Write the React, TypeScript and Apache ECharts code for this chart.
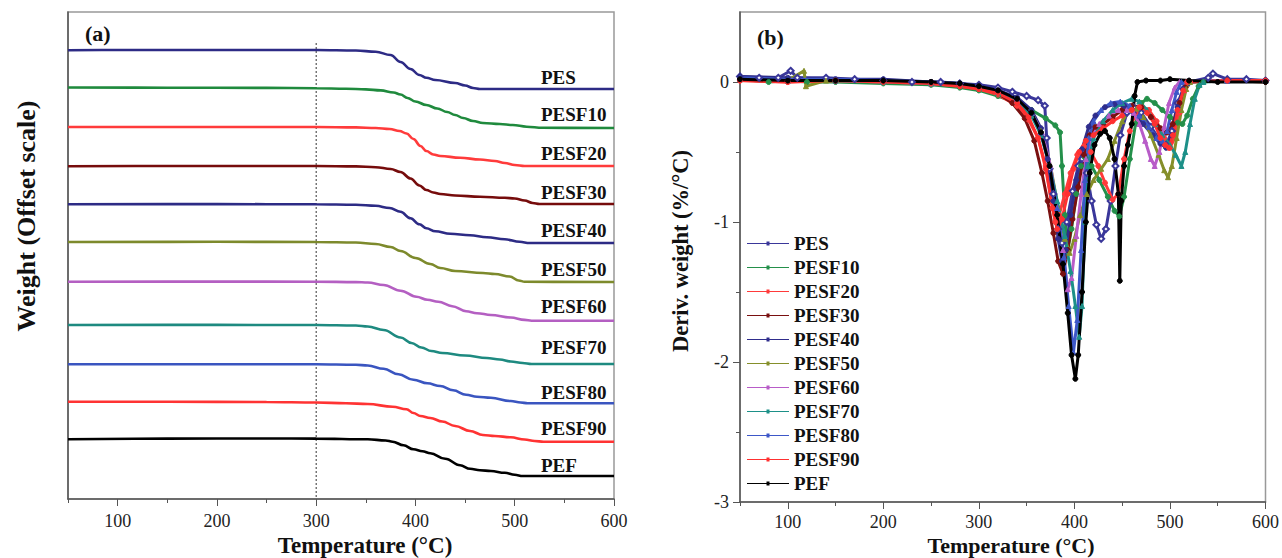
import React, { useEffect, useRef } from "react";
import * as echarts from "echarts";

const FONT = "'Liberation Serif', 'Times New Roman', Times, serif";

// ---------- Panel (a): TGA weight curves, [temperature °C, weight %] ----------
const tgaPES = [[50,99.7],[100,100],[200,100],[300,100],[340,99.5],[360,98.3],[375,95],[385,88],[395,81],[404,75],[411,72.2],[420,70],[440,67],[450,64.5],[458,62],[465,61],[600,61]];
const tgaPESF10 = [[50,100.5],[150,100.3],[250,100.1],[300,99.8],[330,99.3],[350,98.6],[365,97.6],[378,95.5],[385,93.5],[392,90],[400,86.5],[411,83],[422,79.5],[432,76],[440,73],[448,70],[458,67],[468,65],[485,64],[498,63],[512,61.3],[528,60.2],[600,60]];
const tgaPESF20 = [[50,100],[200,100],[300,100],[340,99.6],[360,99],[374,98],[384,96],[391,93.5],[398,88],[405,81],[411,76],[418,72.5],[425,71],[445,69.3],[465,67.5],[480,66],[490,64],[500,62],[510,61],[600,61]];
const tgaPESF30 = [[50,99.7],[150,100],[250,100],[300,100],[340,99.6],[360,98.8],[375,97],[385,94],[395,87.5],[404,80.5],[411,76],[418,73.5],[425,72],[440,70.5],[465,69.2],[490,68.2],[500,67.5],[510,65.5],[518,63],[525,62],[600,62]];
const tgaPESF40 = [[50,100],[200,100.2],[300,100],[340,99.5],[360,98.5],[374,96.3],[385,92.5],[395,86],[404,80],[411,76],[420,73],[435,70.5],[455,69],[472,67],[490,65],[505,62.5],[515,61.3],[600,61.3]];
const tgaPESF50 = [[50,100],[200,100.2],[300,100],[340,99.5],[360,98],[375,95],[385,91],[400,84],[415,78],[425,74],[440,71],[468,69],[480,68],[495,65.5],[504,61.5],[510,60.2],[600,60]];
const tgaPESF60 = [[50,100],[200,100.1],[300,100],[340,99.6],[352,99.2],[368,96.7],[385,91],[401,85],[412,82],[423,80],[437,75.5],[451,70.5],[462,68.5],[476,66.7],[496,64.2],[510,61.8],[517,61],[600,61]];
const tgaPESF70 = [[50,100],[200,100.1],[300,100],[340,99.5],[352,98.5],[368,95],[385,87.5],[396,82],[406,77.5],[416,74],[427,72],[450,69.5],[472,67],[485,65.5],[496,63.5],[508,62],[517,61],[600,61]];
const tgaPESF80 = [[50,100],[200,100],[300,100],[340,99.5],[352,98.8],[368,95.5],[383,90],[398,84.5],[412,81],[425,78.3],[438,74],[451,69.5],[462,67.5],[476,66.5],[496,63.3],[506,61.8],[513,61],[600,61]];
const tgaPESF90 = [[50,100.3],[150,100.3],[250,100],[300,99.5],[330,98.8],[352,98],[377,95.3],[391,92.8],[398,89],[405,86],[415,84],[427,80.5],[440,76],[455,71],[468,67],[480,66],[496,64.7],[510,62.5],[520,61],[529,60.3],[600,60.3]];
const tgaPEF = [[50,99],[150,99.7],[250,99.8],[300,99.7],[352,99],[370,97.8],[377,96.6],[388,93],[398,89],[407,87],[415,85],[430,79.5],[445,73],[455,69.5],[465,68],[476,67.3],[490,65.5],[500,63.5],[508,62.3],[600,62.3]];

// vertical offsets (weight units) of the stacked curves
const tgaOffsets = [-1, -39, -78, -117, -155.3, -193, -232.7, -276, -315.3, -353, -389.3];
const guide300 = [[300, 106], [300, -350]];

// ---------- Panel (b): DTG curves, [temperature °C, deriv. weight %/°C] ----------
const dtgPES = [[50,0.04],[70,0.03],[90,0.03],[103,0.08],[110,0.03],[140,0.03],[170,0.02],[200,0.01],[230,0],[260,0],[280,-0.01],[300,-0.02],[320,-0.04],[335,-0.07],[350,-0.1],[362,-0.13],[369,-0.17],[371,-0.4],[374,-0.62],[378,-0.8],[383,-1.05],[387,-1.15],[392,-1.0],[398,-0.78],[404,-0.6],[408,-0.55],[413,-0.65],[418,-0.85],[423,-1.02],[428,-1.12],[433,-1.05],[438,-0.85],[443,-0.6],[448,-0.38],[455,-0.22],[462,-0.18],[470,-0.22],[480,-0.32],[490,-0.42],[496,-0.45],[502,-0.35],[508,-0.15],[514,-0.05],[520,0],[540,0.03],[545,0.06],[560,0.02],[580,0.02],[600,0.01]];
const dtgPESF10 = [[50,0.02],[80,0],[100,0.01],[120,0],[150,0],[200,-0.01],[250,-0.02],[280,-0.04],[300,-0.06],[320,-0.1],[340,-0.15],[355,-0.2],[370,-0.26],[380,-0.31],[385,-0.36],[387,-0.6],[390,-0.95],[393,-1.2],[397,-1.05],[402,-0.8],[407,-0.6],[411,-0.54],[418,-0.6],[426,-0.7],[435,-0.82],[442,-0.92],[447,-0.96],[452,-0.82],[458,-0.55],[464,-0.3],[470,-0.15],[476,-0.12],[484,-0.15],[492,-0.2],[500,-0.25],[508,-0.29],[513,-0.3],[518,-0.24],[524,-0.12],[530,-0.03],[535,0],[560,0.01],[600,0]];
const dtgPESF20 = [[50,0.01],[100,0],[150,0.01],[200,0],[250,-0.01],[280,-0.03],[300,-0.05],[320,-0.09],[340,-0.17],[352,-0.27],[362,-0.4],[370,-0.6],[376,-0.85],[380,-1.0],[384,-0.95],[390,-0.8],[396,-0.65],[403,-0.52],[410,-0.46],[417,-0.5],[425,-0.6],[432,-0.72],[440,-0.84],[446,-0.8],[452,-0.55],[458,-0.35],[464,-0.22],[470,-0.18],[478,-0.2],[486,-0.28],[494,-0.4],[500,-0.47],[505,-0.4],[510,-0.22],[516,-0.06],[521,0],[560,0.01],[600,0]];
const dtgPESF30 = [[50,0.02],[100,0.01],[150,0.01],[200,0.01],[250,0],[280,-0.02],[300,-0.04],[320,-0.08],[335,-0.15],[348,-0.26],[358,-0.42],[366,-0.65],[372,-0.85],[378,-1.08],[383,-1.28],[388,-1.37],[393,-1.2],[398,-0.98],[404,-0.75],[410,-0.52],[416,-0.38],[422,-0.32],[430,-0.3],[440,-0.25],[450,-0.2],[460,-0.17],[470,-0.18],[480,-0.25],[490,-0.33],[497,-0.36],[503,-0.3],[510,-0.15],[516,-0.04],[520,0],[560,0.01],[600,0.01]];
const dtgPESF40 = [[50,0.04],[100,0.03],[150,0.02],[200,0.02],[250,0],[280,-0.01],[300,-0.03],[320,-0.06],[340,-0.11],[355,-0.2],[365,-0.33],[372,-0.55],[378,-0.85],[383,-1.12],[387,-1.28],[391,-1.2],[396,-0.95],[402,-0.7],[408,-0.48],[415,-0.32],[422,-0.24],[432,-0.18],[442,-0.16],[452,-0.17],[462,-0.22],[472,-0.3],[482,-0.38],[490,-0.44],[496,-0.47],[502,-0.38],[508,-0.18],[514,-0.05],[518,0],[560,0.01],[600,0.01]];
const dtgPESF50 = [[50,0.02],[100,0.01],[117,0.08],[119,-0.03],[140,0.01],[200,0],[250,-0.01],[280,-0.02],[300,-0.04],[320,-0.07],[340,-0.13],[355,-0.22],[365,-0.35],[375,-0.6],[383,-0.9],[390,-1.12],[395,-1.22],[400,-1.12],[406,-0.95],[413,-0.8],[420,-0.7],[428,-0.62],[435,-0.55],[442,-0.42],[450,-0.28],[458,-0.2],[465,-0.19],[472,-0.25],[480,-0.38],[488,-0.52],[494,-0.63],[498,-0.68],[502,-0.6],[507,-0.4],[512,-0.2],[517,-0.05],[521,0],[560,0.01],[600,0.01]];
const dtgPESF60 = [[50,0.02],[100,0.01],[150,0.01],[200,0],[250,-0.01],[280,-0.02],[300,-0.04],[320,-0.07],[340,-0.13],[355,-0.22],[366,-0.36],[375,-0.6],[382,-0.9],[388,-1.2],[393,-1.48],[397,-1.4],[402,-1.1],[407,-0.8],[412,-0.55],[418,-0.4],[426,-0.3],[436,-0.24],[446,-0.2],[455,-0.2],[462,-0.22],[468,-0.3],[474,-0.42],[480,-0.55],[484,-0.6],[489,-0.5],[494,-0.32],[499,-0.15],[505,-0.04],[510,0],[560,0.01],[600,0.01]];
const dtgPESF70 = [[50,0.02],[100,0.01],[150,0.01],[200,0],[250,-0.01],[280,-0.02],[300,-0.04],[320,-0.08],[340,-0.14],[355,-0.24],[365,-0.38],[374,-0.6],[382,-0.85],[390,-1.1],[396,-1.35],[401,-1.6],[405,-1.82],[408,-1.6],[411,-1.0],[414,-0.6],[420,-0.4],[430,-0.28],[440,-0.2],[450,-0.15],[460,-0.12],[468,-0.14],[476,-0.2],[484,-0.3],[492,-0.38],[500,-0.45],[506,-0.52],[512,-0.6],[516,-0.5],[521,-0.3],[526,-0.12],[531,-0.02],[535,0],[560,0.01],[600,0.01]];
const dtgPESF80 = [[50,0.03],[100,0.02],[150,0.02],[200,0.01],[250,0],[280,-0.01],[300,-0.03],[320,-0.06],[340,-0.12],[355,-0.22],[365,-0.36],[374,-0.6],[382,-0.9],[389,-1.25],[394,-1.6],[399,-1.93],[403,-1.7],[407,-1.2],[411,-0.7],[415,-0.4],[420,-0.28],[428,-0.2],[438,-0.15],[448,-0.14],[458,-0.17],[468,-0.24],[478,-0.32],[486,-0.4],[492,-0.42],[497,-0.35],[502,-0.2],[507,-0.07],[512,0],[560,0.01],[600,0.01]];
const dtgPESF90 = [[50,0.01],[100,0],[150,0.01],[200,0],[250,-0.01],[280,-0.03],[300,-0.05],[320,-0.08],[340,-0.15],[352,-0.25],[362,-0.4],[370,-0.62],[377,-0.9],[382,-1.05],[387,-0.98],[393,-0.8],[399,-0.62],[405,-0.5],[412,-0.42],[420,-0.38],[430,-0.33],[440,-0.28],[450,-0.24],[460,-0.2],[468,-0.18],[476,-0.22],[484,-0.3],[490,-0.4],[495,-0.45],[499,-0.47],[503,-0.38],[508,-0.2],[514,-0.06],[518,0],[560,0.01],[600,0.01]];
const dtgPEF = [[50,0.02],[100,0.01],[150,0.01],[200,0.01],[250,0],[280,-0.01],[300,-0.03],[320,-0.06],[340,-0.12],[355,-0.22],[365,-0.36],[374,-0.6],[382,-0.95],[388,-1.3],[393,-1.65],[397,-1.95],[401,-2.12],[404,-1.95],[408,-1.5],[412,-1.0],[416,-0.65],[421,-0.45],[427,-0.37],[432,-0.35],[437,-0.4],[442,-0.55],[446,-0.8],[447.5,-1.42],[449,-0.85],[452,-0.6],[456,-0.45],[460,-0.3],[463,-0.1],[466,0],[475,0.01],[490,0.01],[500,0.02],[520,0.01],[550,0],[600,0]];

const names = ["PES","PESF10","PESF20","PESF30","PESF40","PESF50","PESF60","PESF70","PESF80","PESF90","PEF"];
const tgaColors = ["#2d2b85","#1f8a3d","#ff3b3b","#760c0c","#2d2b85","#7d8a2c","#b45fc2","#1e8a80","#3a55c0","#ff3333","#000000"];
const dtgColors = ["#3a379a","#24904a","#ff3a3a","#7a1010","#2f2d8c","#858f2a","#b85cc8","#1d9088","#3d57c8","#ff3030","#000000"];
const dtgSymbols = ["emptyDiamond","circle","circle","circle","circle","triangle","triangle","triangle","triangle","circle","circle"];

const xTicksMajor = [100, 200, 300, 400, 500, 600];
const xTicksMinor = [50, 150, 250, 350, 450, 550];
const yTicksB = [-3, -2, -1, 0];
const yTicksBMinor = [-2.5, -1.5, -0.5];

const tgaSets = [tgaPES,tgaPESF10,tgaPESF20,tgaPESF30,tgaPESF40,tgaPESF50,tgaPESF60,tgaPESF70,tgaPESF80,tgaPESF90,tgaPEF];
const dtgSets = [dtgPES,dtgPESF10,dtgPESF20,dtgPESF30,dtgPESF40,dtgPESF50,dtgPESF60,dtgPESF70,dtgPESF80,dtgPESF90,dtgPEF];

// layout of curve labels in panel (a) (pixel centres)
const labelY = [77, 114, 153, 192, 230, 269, 306, 347, 392, 428, 465];

const axisColor = "#555";
const legendIcon = "path://M0,4.5H42V5.5H0Z M19.5,3H22.5V7H19.5Z";

export default function App() {
  const ref = useRef<HTMLDivElement>(null);
  useEffect(() => {
    if (!ref.current) return;
    const chart = echarts.init(ref.current, null, { renderer: "svg" });

    const majorX = (grid: number, margin: number) => ({
      gridIndex: grid, type: "value", min: 50, max: 600, position: "bottom",
      axisLine: { show: true, onZero: false, lineStyle: { color: axisColor, width: 1.5 } },
      axisTick: { show: true, customValues: xTicksMajor, length: 7, lineStyle: { color: axisColor, width: 1 } },
      axisLabel: { customValues: xTicksMajor, fontFamily: FONT, fontSize: 18, color: "#222", margin },
      splitLine: { show: false },
    });
    const minorX = (grid: number) => ({
      gridIndex: grid, type: "value", min: 50, max: 600, position: "bottom",
      axisLine: { show: false, onZero: false },
      axisTick: { show: true, customValues: xTicksMinor, length: 4, lineStyle: { color: axisColor, width: 1 } },
      axisLabel: { show: false },
      splitLine: { show: false },
    });

    const series: any[] = [];
    tgaSets.forEach((set, i) => {
      series.push({
        name: "a-" + names[i], type: "line", xAxisIndex: 0, yAxisIndex: 0,
        data: set.map(([t, w]) => [t, w + tgaOffsets[i]]),
        showSymbol: false, smooth: 0.4, smoothMonotone: "x",
        lineStyle: { color: tgaColors[i], width: 2.6 }, itemStyle: { color: tgaColors[i] },
        silent: true, z: 3,
      });
    });
    series.push({
      name: "guide", type: "line", xAxisIndex: 0, yAxisIndex: 0, data: guide300,
      showSymbol: false, lineStyle: { color: "#333", width: 1, type: [2, 2] }, silent: true, z: 2,
    });
    dtgSets.forEach((set, i) => {
      series.push({
        name: names[i], type: "line", xAxisIndex: 2, yAxisIndex: 1, data: set,
        showSymbol: true, symbol: dtgSymbols[i], symbolSize: dtgSymbols[i] === "emptyDiamond" ? 6 : 5,
        lineStyle: { color: dtgColors[i], width: 3 }, itemStyle: { color: dtgColors[i], borderColor: dtgColors[i] },
        silent: true, z: 3,
      });
    });

    const graphics: any[] = [
      { type: "text", left: 85, top: 22, style: { text: "(a)", font: `bold 22px ${FONT}`, fill: "#111" } },
      { type: "text", left: 757, top: 26, style: { text: "(b)", font: `bold 22px ${FONT}`, fill: "#111" } },
      { type: "text", x: 26, y: 216, rotation: Math.PI / 2, style: { text: "Weight (Offset scale)", font: `bold 26px ${FONT}`, fill: "#111", align: "center", verticalAlign: "middle" } },
      { type: "text", x: 680, y: 251, rotation: Math.PI / 2, style: { text: "Deriv. weight (%/°C)", font: `bold 22.5px ${FONT}`, fill: "#111", align: "center", verticalAlign: "middle" } },
      { type: "text", x: 365, y: 545, style: { text: "Temperature (°C)", font: `bold 23px ${FONT}`, fill: "#111", align: "center", verticalAlign: "middle" } },
      { type: "text", x: 1011, y: 545, style: { text: "Temperature (°C)", font: `bold 22px ${FONT}`, fill: "#111", align: "center", verticalAlign: "middle" } },
    ];
    names.forEach((n, i) => {
      graphics.push({ type: "text", x: 541, y: labelY[i], style: { text: n, font: `bold 19px ${FONT}`, fill: "#111", align: "left", verticalAlign: "middle" } });
    });

    chart.setOption({
      animation: false,
      backgroundColor: "#ffffff",
      grid: [
        { left: 68, top: 12, width: 546, height: 487, show: true, borderColor: "#999", borderWidth: 1.5, backgroundColor: "transparent" },
        { left: 740, top: 12, width: 528, height: 490, show: true, borderColor: "#999", borderWidth: 1.5, backgroundColor: "transparent" },
      ],
      xAxis: [majorX(0, 13), minorX(0), majorX(1, 11), minorX(1)],
      yAxis: [
        {
          gridIndex: 0, type: "value", min: -350, max: 137, position: "left",
          axisLine: { show: true, onZero: false, lineStyle: { color: axisColor, width: 1.5 } },
          axisTick: { show: false }, axisLabel: { show: false }, splitLine: { show: false },
        },
        {
          gridIndex: 1, type: "value", min: -3, max: 0.5, position: "left",
          axisLine: { show: true, onZero: false, lineStyle: { color: axisColor, width: 1.5 } },
          axisTick: { show: true, customValues: yTicksB, length: 7, lineStyle: { color: axisColor } },
          axisLabel: { customValues: yTicksB, fontFamily: FONT, fontSize: 18, color: "#222", margin: 11, formatter: (v: number) => String(v) },
          splitLine: { show: false },
        },
        {
          gridIndex: 1, type: "value", min: -3, max: 0.5, position: "left",
          axisLine: { show: false, onZero: false },
          axisTick: { show: true, customValues: yTicksBMinor, length: 4, lineStyle: { color: axisColor } },
          axisLabel: { show: false }, splitLine: { show: false },
        },
      ],
      legend: {
        data: names, orient: "vertical", left: 747, top: 234, itemGap: 5, padding: 0,
        itemWidth: 42, itemHeight: 4, icon: legendIcon, selectedMode: false,
        textStyle: { fontFamily: FONT, fontWeight: "bold", fontSize: 19, color: "#111", lineHeight: 19 },
      },
      graphic: graphics,
      series,
    });
    return () => chart.dispose();
  }, []);
  return <div ref={ref} style={{ position: "absolute", left: 0, top: 0, width: 1282, height: 558 }} />;
}
